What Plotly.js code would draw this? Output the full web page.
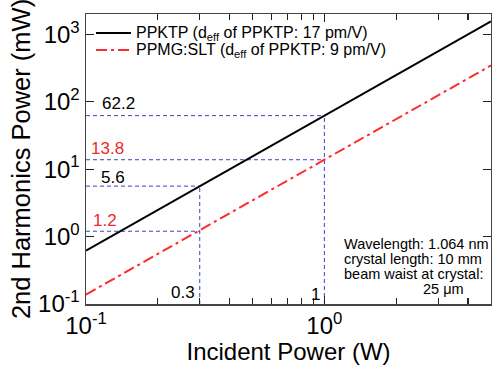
<!DOCTYPE html>
<html><head><meta charset="utf-8">
<script src="https://cdn.plot.ly/plotly-3.0.1.min.js"></script>
<style>body{margin:0;background:#fff;}#chart{width:492px;height:365px;}</style>
</head><body><div id="chart"></div>
<script>
// ---- data ----
const incidentPower = [0.1, 0.3, 1, 5];            // W
const ppktpShg      = [0.62, 5.6, 62.2, 1555];      // mW
const ppmgsltShg    = [0.138, 1.24, 13.8, 345];     // mW
const markPower     = [0.3, 1];                     // W
const markPpktp     = [5.6, 62.2];                  // mW
const markPpmgslt   = [1.2, 13.8];                  // mW
const seriesNames = ['PPKTP (d<sub>eff</sub> of PPKTP: 17 pm/V)',
                     'PPMG:SLT (d<sub>eff</sub> of PPKTP: 9 pm/V)'];
const xTickVals  = [0.1, 1];
const xTickText  = ['10<sup>-1</sup>', '10<sup>0</sup>'];
const xMinorVals = [0.2, 0.3, 0.4, 0.5, 0.6, 0.7, 0.8, 0.9, 2, 3, 4];
const yTickVals  = [0.1, 1, 10, 100, 1000];
const yTickText  = ['10<sup>-1</sup>', '10<sup>0</sup>', '10<sup>1</sup>', '10<sup>2</sup>', '10<sup>3</sup>'];
const infoLines  = ['Wavelength: 1.064 nm', 'crystal length: 10 mm', 'beam waist at crystal:'];
const infoWaist  = '25 μm';
const xRange = [0.1, 5];
const yRange = [0.1, 2000];

// ---- styles ----
const seriesColors = ['#000000', '#ff2a2a'];
const seriesDash   = ['solid', '11px,4px,3px,4px'];

// ---- guide lines (blue dashed) built from the marked values ----
const gx = [], gy = [];
markPower.forEach((p, i) => {
  gx.push(xRange[0], p, null); gy.push(markPpktp[i], markPpktp[i], null);
  gx.push(xRange[0], p, null); gy.push(markPpmgslt[i], markPpmgslt[i], null);
  gx.push(p, p, null); gy.push(yRange[0], markPpktp[i], null);
});

const traces = [
  {x: gx, y: gy, mode: 'lines', showlegend: false, hoverinfo: 'skip',
   line: {color: '#3a44c0', width: 1, dash: '4px,3px'}},
  {x: incidentPower, y: ppktpShg, mode: 'lines', name: seriesNames[0],
   line: {color: seriesColors[0], width: 2, dash: seriesDash[0]}},
  {x: incidentPower, y: ppmgsltShg, mode: 'lines', name: seriesNames[1],
   line: {color: seriesColors[1], width: 2, dash: seriesDash[1]}}
];

const L = 86, T = 14, W = 405, H = 290;
const px = v => (v - L) / W;
const py = v => 1 - (v - T) / H;
const f = 'Liberation Sans, Arial, sans-serif';

const annotations = [
  {text: markPpktp[1].toFixed(1), x: px(118), y: py(103), color: '#000'},
  {text: markPpmgslt[1].toFixed(1), x: px(107), y: py(148), color: '#ee2a2a'},
  {text: markPpktp[0].toFixed(1), x: px(113), y: py(177), color: '#000'},
  {text: markPpmgslt[0].toFixed(1), x: px(105), y: py(220), color: '#ee2a2a'},
  {text: String(markPower[0]), x: px(183), y: py(292), color: '#000'},
  {text: String(markPower[1]), x: px(315), y: py(294), color: '#000'}
].map(a => ({text: a.text, xref: 'paper', yref: 'paper', x: a.x, y: a.y,
  xanchor: 'center', yanchor: 'middle', showarrow: false,
  font: {family: f, size: 17, color: a.color}}));

infoLines.forEach((t, i) => annotations.push({
  text: t, xref: 'paper', yref: 'paper', x: px(342), y: py(244 + 15 * i),
  xanchor: 'left', yanchor: 'middle', showarrow: false,
  font: {family: f, size: 14.5, color: '#000'}}));
annotations.push({text: infoWaist, xref: 'paper', yref: 'paper', x: px(443), y: py(289),
  xanchor: 'center', yanchor: 'middle', showarrow: false,
  font: {family: f, size: 14.5, color: '#000'}});

// ---- compact legend (as in the reference) ----
const legendRows = [33, 50];
const shapes = [];
seriesNames.forEach((name, i) => {
  shapes.push({type: 'line', xref: 'paper', yref: 'paper',
    x0: px(96), x1: px(131), y0: py(legendRows[i]), y1: py(legendRows[i]),
    line: {color: seriesColors[i], width: 2, dash: seriesDash[i]}});
  annotations.push({text: name, xref: 'paper', yref: 'paper', x: px(134), y: py(legendRows[i]),
    xanchor: 'left', yanchor: 'middle', showarrow: false,
    font: {family: f, size: 16, color: '#000'}});
});

const axisCommon = {
  type: 'log', showgrid: false, zeroline: false, showline: true,
  linecolor: '#444', linewidth: 1.5, mirror: 'ticks',
  ticks: 'inside', ticklen: 8, tickwidth: 1.3, tickcolor: '#222',
  tickmode: 'array', tickfont: {family: f, size: 24, color: '#000'}
};

const layout = {
  width: 492, height: 365,
  margin: {l: L, r: 492 - L - W, t: T, b: 365 - T - H},
  paper_bgcolor: '#fff', plot_bgcolor: '#fff',
  showlegend: false,
  xaxis: Object.assign({}, axisCommon, {
    range: xRange.map(Math.log10), tickvals: xTickVals, ticktext: xTickText,
    minor: {tickmode: 'array', tickvals: xMinorVals, ticks: 'inside', ticklen: 6,
            tickwidth: 1.2, tickcolor: '#222', showgrid: false},
    title: {text: 'Incident Power (W)', font: {family: f, size: 24, color: '#000'}, standoff: 6}
  }),
  yaxis: Object.assign({}, axisCommon, {
    range: yRange.map(Math.log10), tickvals: yTickVals, ticktext: yTickText,
    title: {text: '2nd Harmonics Power (mW)', font: {family: f, size: 25.5, color: '#000'}, standoff: 0}
  }),
  shapes: shapes,
  annotations: annotations
};

Plotly.newPlot('chart', traces, layout, {displayModeBar: false, staticPlot: true});
</script>
</body></html>
